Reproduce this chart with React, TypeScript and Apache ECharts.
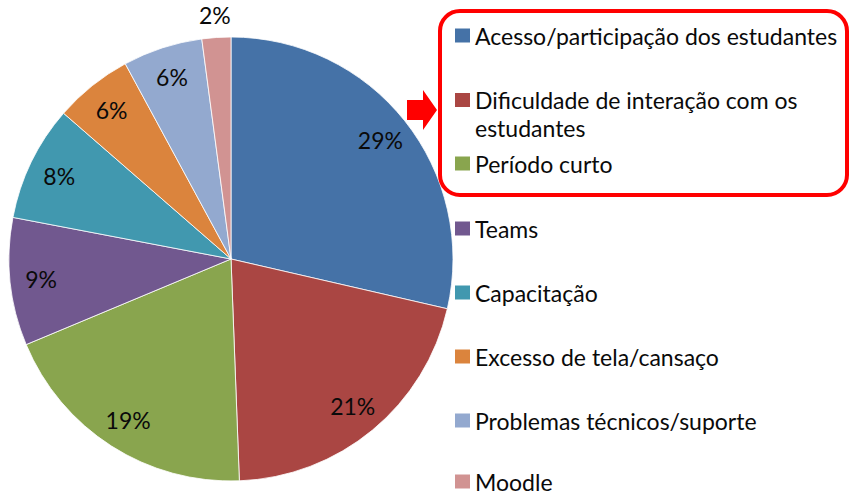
import React, { useEffect, useRef } from "react";
import * as echarts from "echarts";

const categories = [
  "Acesso/participação dos estudantes",
  "Dificuldade de interação com os estudantes",
  "Período curto",
  "Teams",
  "Capacitação",
  "Excesso de tela/cansaço",
  "Problemas técnicos/suporte",
  "Moodle",
];
const values = [28.6, 20.8, 19.3, 9.3, 8.4, 5.7, 5.8, 2.1];
const colors = ["#4572A7", "#AA4643", "#89A54E", "#71588F", "#4198AF", "#DB843D", "#93A9CF", "#D19392"];
const outsideLabel = ["Moodle"];

const legendCenters = [34, 100, 162, 227, 291, 355, 419, 480];
const FONT = "Lato";
const FS = 23;

export default function App() {
  const ref = useRef<HTMLDivElement>(null);
  useEffect(() => {
    document.body.style.margin = "0";
    const chart = echarts.init(ref.current!, undefined, { renderer: "svg" });
    const cx = 231, cy = 259, R = 222;
    const fmt = (p: any) => Math.round(p.percent) + "%";
    const baseData = categories.map((name, i) => ({ name, value: values[i] }));

    const legends = categories.map((name, i) => {
      const twoLine = name.includes(" com os ");
      return {
        data: [
          twoLine
            ? {
                name,
                itemStyle: { color: colors[i], borderWidth: 0 },
                icon: "path://M0,0 L15,0 L15,14 L0,14 Z M0,42 L15,42 Z",
              }
            : { name, itemStyle: { color: colors[i], borderWidth: 0 } },
        ],
        left: 455,
        top: twoLine ? legendCenters[i] - 14 : legendCenters[i] - 10,
        orient: "vertical",
        padding: 0,
        itemWidth: 15,
        itemHeight: twoLine ? 42 : 14,
        icon: "rect",
        selectedMode: false,
        formatter: (n: string) => n.replace(" com os ", " com os\n"),
        textStyle: twoLine
          ? { fontFamily: FONT, fontSize: FS, color: "#0a0a0a", lineHeight: 28 }
          : { fontFamily: FONT, fontSize: FS, color: "#0a0a0a", lineHeight: 20 },
      };
    });

    const labelStyle = {
      show: true,
      position: "inside",
      formatter: fmt,
      fontFamily: FONT,
      fontSize: FS,
      color: "#0a0a0a",
    };

    chart.setOption({
      animation: false,
      backgroundColor: "#fff",
      color: colors,
      legend: legends,
      series: [
        {
          type: "pie",
          center: [cx, cy],
          radius: [0, R],
          startAngle: 90,
          clockwise: true,
          silent: true,
          emphasis: { disabled: true },
          label: { show: false },
          labelLine: { show: false },
          itemStyle: { borderColor: "#fff", borderWidth: 0.8 },
          data: baseData.map((d, i) => ({ ...d, itemStyle: { color: colors[i] } })),
        },
        {
          type: "pie",
          center: [cx, cy],
          radius: [154, R],
          startAngle: 90,
          clockwise: true,
          silent: true,
          avoidLabelOverlap: false,
          emphasis: { disabled: true },
          itemStyle: { color: "rgba(0,0,0,0)" },
          labelLine: { show: false },
          label: labelStyle,
          data: baseData.map((d) => ({
            ...d,
            label: { show: !outsideLabel.includes(d.name) },
          })),
        },
        {
          type: "pie",
          center: [cx, cy],
          radius: [R, 262],
          startAngle: 90,
          clockwise: true,
          silent: true,
          avoidLabelOverlap: false,
          emphasis: { disabled: true },
          itemStyle: { color: "rgba(0,0,0,0)" },
          labelLine: { show: false },
          label: labelStyle,
          data: baseData.map((d) => ({
            ...d,
            label: { show: outsideLabel.includes(d.name) },
          })),
        },
      ],
      graphic: [
        {
          type: "rect",
          shape: { x: 440, y: 11, width: 407, height: 184, r: 20 },
          style: { fill: "none", stroke: "#FF0000", lineWidth: 4 },
          z: 100,
        },
        {
          type: "polygon",
          shape: {
            points: [
              [407, 100], [423, 100], [423, 90], [437, 110], [423, 130], [423, 120], [407, 120],
            ],
          },
          style: { fill: "#FF0000" },
          z: 100,
        },
      ],
    });
    return () => chart.dispose();
  }, []);
  return (
    <div
      ref={ref}
      style={{ position: "fixed", left: 0, top: 0, width: 850, height: 494 }}
    />
  );
}
